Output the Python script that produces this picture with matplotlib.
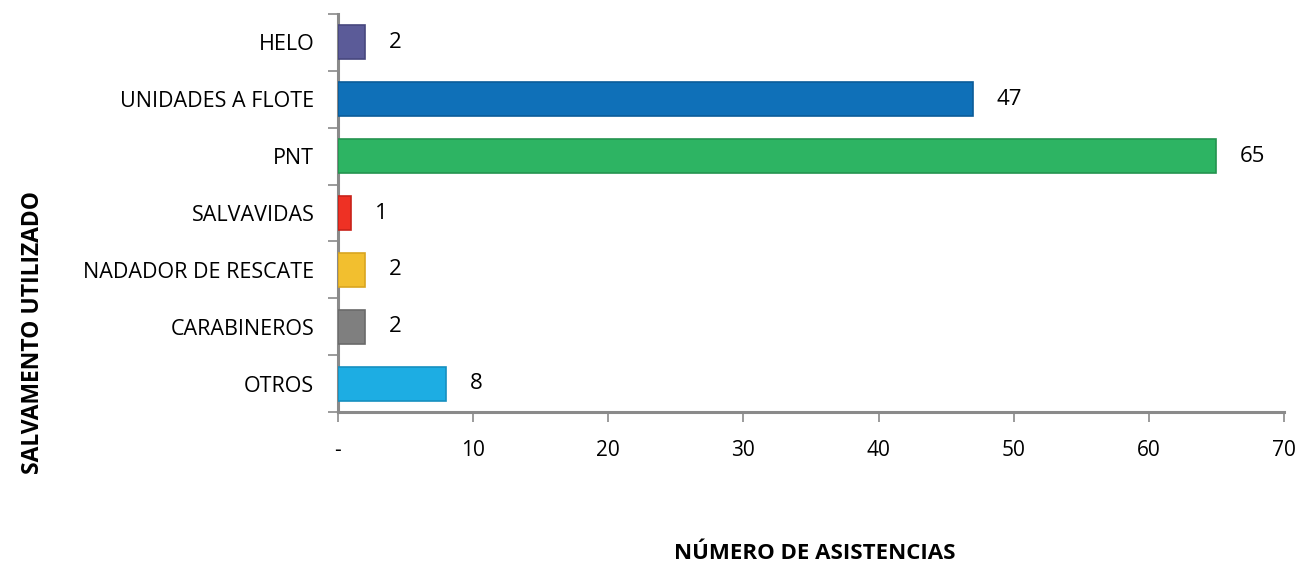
import matplotlib.pyplot as plt
import numpy as np

categorias = ["OTROS", "CARABINEROS", "NADADOR DE RESCATE", "SALVAVIDAS",
              "PNT", "UNIDADES A FLOTE", "HELO"]
asistencias = [8, 2, 2, 1, 65, 47, 2]
colores = ["#1DADE3", "#7F7F7F", "#F2BF2F", "#EE3124",
           "#2DB463", "#0F70B8", "#5B5B98"]
bordes = ["#1690C0", "#6A6A6A", "#D9A520", "#C8221A",
          "#24944F", "#0B5C99", "#47477E"]
xticks = [0, 10, 20, 30, 40, 50, 60, 70]
xticklabels = ["-", "10", "20", "30", "40", "50", "60", "70"]

plt.rcParams['font.family'] = ['Open Sans', 'DejaVu Sans']

fig = plt.figure(figsize=(13.12, 5.69), dpi=100)
ax = fig.add_axes([0.2576, 0.2759, 0.9787 - 0.2576, 0.9754 - 0.2759])

y = np.arange(len(categorias))
ax.barh(y, asistencias, height=0.6, color=colores, edgecolor=bordes, linewidth=1.2, zorder=3)

for yi, v in zip(y, asistencias):
    ax.annotate(str(v), (v, yi), xytext=(17, 0), textcoords="offset points",
                ha="left", va="center", fontsize=16, color="black")

ax.set_xlim(0, 70)
ax.set_ylim(-0.5, len(categorias) - 0.5)
ax.set_xticks(xticks)
ax.set_xticklabels(xticklabels, fontsize=15)
ax.set_yticks(y)
ax.set_yticklabels(categorias, fontsize=15.5)
ax.set_yticks(np.arange(-0.5, len(categorias), 1.0), minor=True)

ax.tick_params(axis="y", which="major", length=0, pad=17)
ax.tick_params(axis="y", which="minor", length=7, width=1.2, color="#8a8a8a", direction="out")
ax.tick_params(axis="x", length=7, width=1.2, color="#8a8a8a", pad=13)

for s in ["top", "right"]:
    ax.spines[s].set_visible(False)
for s in ["left", "bottom"]:
    ax.spines[s].set_color("#8a8a8a")
    ax.spines[s].set_linewidth(2.2)

fig.text(0.621, 0.028, "NÚMERO DE ASISTENCIAS", ha="center", va="center",
         fontsize=16, fontweight="bold")
fig.text(0.025, 0.416, "SALVAMENTO UTILIZADO", ha="center", va="center",
         rotation=90, fontsize=16.5, fontweight="bold")

fig.savefig("out.png", dpi=100)
